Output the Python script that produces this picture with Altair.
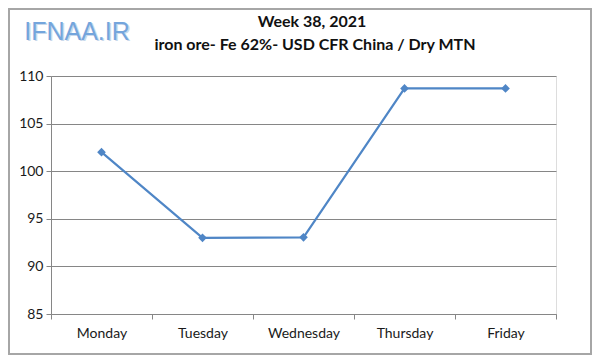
import altair as alt
import pandas as pd

days = ["Monday", "Tuesday", "Wednesday", "Thursday", "Friday"]
prices = [102.0, 93.0, 93.05, 108.7, 108.7]
y_ticks = [85, 90, 95, 100, 105, 110]
title_lines = ["Week 38, 2021", "iron ore- Fe 62%- USD CFR China / Dry MTN"]
watermark = "IFNAA.IR"

df = pd.DataFrame({"day": days, "price": prices})

FONT = "Lato"
W, H = 505, 238
PL, PT, PR, PB = 43, 68, 36, 41

x_enc = alt.X("day:N", sort=days, title=None,
              scale=alt.Scale(paddingInner=0, paddingOuter=0),
              axis=alt.Axis(labelAngle=0, tickBand="extent", domainColor="#868686",
                            tickColor="#868686", tickSize=5, labelFont=FONT,
                            labelFontSize=14, labelColor="#1a1a1a", labelPadding=7,
                            grid=False))
y_enc = alt.Y("price:Q", title=None,
              scale=alt.Scale(domain=[85, 110], nice=False, zero=False),
              axis=alt.Axis(values=y_ticks, domainColor="#868686", tickColor="#868686",
                            tickSize=5, gridColor="#868686", gridOpacity=1,
                            labelFont=FONT, labelFontSize=14, labelColor="#1a1a1a",
                            labelPadding=3))

border = alt.Chart(df).mark_rect(fill="transparent", stroke="#a6a6a6", strokeWidth=1.5).encode(
    x=alt.value(-42), x2=alt.value(540), y=alt.value(-67), y2=alt.value(278))

line = alt.Chart(df).mark_line(color="#4f86c6", strokeWidth=2.2).encode(x=x_enc, y=y_enc)
pts = alt.Chart(df).mark_point(shape="diamond", filled=True, color="#4f86c6",
                               size=75, opacity=1).encode(x=x_enc, y=y_enc)

wm_df = pd.DataFrame({"t": [watermark]})
wm_shadow = alt.Chart(wm_df).mark_text(font="Liberation Sans", fontSize=25,
                                       color="#c9d9ec", baseline="middle",
                                       align="center").encode(
    text="t:N", x=alt.value(27.5), y=alt.value(-43))
wm = alt.Chart(wm_df).mark_text(font="Liberation Sans", fontSize=25,
                                color="#74a5dc", baseline="middle",
                                align="center").encode(
    text="t:N", x=alt.value(26), y=alt.value(-44))

t1 = alt.Chart(pd.DataFrame({"t": [title_lines[0]]})).mark_text(
    font=FONT, fontSize=16, fontWeight="bold", color="#111111",
    baseline="middle", align="center").encode(
    text="t:N", x=alt.value(261), y=alt.value(-54))
t2 = alt.Chart(pd.DataFrame({"t": [title_lines[1]]})).mark_text(
    font=FONT, fontSize=16, fontWeight="bold", color="#111111",
    baseline="middle", align="center").encode(
    text="t:N", x=alt.value(264), y=alt.value(-31))

chart = alt.layer(border, wm_shadow, wm, t1, t2, line, pts).properties(
    width=W, height=H,
    autosize=alt.AutoSizeParams(type="none"),
    padding={"left": PL, "top": PT, "right": PR, "bottom": PB},
).configure_view(stroke=None).configure(background="white")

chart.save("out.html", embed_options={"renderer": "svg", "actions": False})
